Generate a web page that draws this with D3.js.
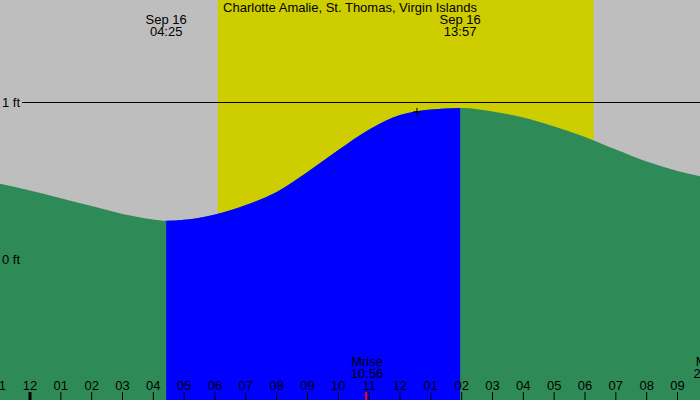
<!DOCTYPE html>
<html>
<head>
<meta charset="utf-8">
<script src="https://cdn.jsdelivr.net/npm/d3@7"></script>
<style>
  body { margin: 0; background: #fff; }
  text { font-family: "Liberation Sans", Arial, sans-serif; font-size: 13px; fill: #000; }
</style>
</head>
<body>
<div id="chart"></div>
<script>
// tide heights (ft), hours after midnight Sep 16
var tideHours = [-1, 0, 1, 2, 3, 4, 4.417, 5, 6, 7, 8, 9, 10, 11, 12, 13, 13.95, 14, 15, 16, 17, 18, 19, 20, 21, 22];
var tideFeet = [0.484, 0.44, 0.39, 0.34, 0.29, 0.255, 0.247, 0.253, 0.287, 0.347, 0.43, 0.557, 0.697, 0.828, 0.92, 0.955, 0.965, 0.965, 0.943, 0.904, 0.847, 0.78, 0.70, 0.624, 0.564, 0.52];

// events
var lowTide = {hour: 4.417, label: ["Sep 16", "04:25"]};
var highTide = {hour: 13.95, label: ["Sep 16", "13:57"]};
var sunrise = 6.09, sunset = 18.28;
var moonEvents = [
  {hour: 10.933, label: ["Mrise", "10:56"]},
  {hour: 22.05, label: ["Mset", "22:03"]}
];
var nowMark = {hour: 12.55, feet: 0.94};

// axis
var tickHours = d3.range(-1, 22);
var tickLabels = ["11", "12", "01", "02", "03", "04", "05", "06", "07", "08", "09", "10", "11",
                  "12", "01", "02", "03", "04", "05", "06", "07", "08", "09"];
var footTicks = [0, 1];

var title = "Charlotte Amalie, St. Thomas, Virgin Islands";

var width = 700, height = 400;

var svg = d3.select("#chart")
    .append("svg")
    .attr("width", width)
    .attr("height", height);

var x = d3.scaleLinear().domain([0, 24]).range([30, 770]);
var y = d3.scaleLinear().domain([0, 1]).range([259.5, 102.5]);

var data = tideHours.map(function (h, i) { return {h: h, ft: tideFeet[i]}; });

// background (night)
svg.append("rect")
    .attr("width", width)
    .attr("height", height)
    .attr("fill", "#bebebe");

// daylight band
svg.append("rect")
    .attr("x", x(sunrise))
    .attr("y", 0)
    .attr("width", x(sunset) - x(sunrise))
    .attr("height", height)
    .attr("fill", "#cdcd00");

var area = d3.area()
    .curve(d3.curveMonotoneX)
    .x(function (d) { return x(d.h); })
    .y0(height)
    .y1(function (d) { return y(d.ft); });

svg.append("path")
    .datum(data)
    .attr("fill", "#2e8b57")
    .attr("d", area);

// rising tide between low and high
svg.append("clipPath")
    .attr("id", "rise")
    .append("rect")
    .attr("x", x(lowTide.hour))
    .attr("y", 0)
    .attr("width", x(highTide.hour) - x(lowTide.hour))
    .attr("height", height);

svg.append("path")
    .datum(data)
    .attr("fill", "#0000ff")
    .attr("clip-path", "url(#rise)")
    .attr("d", area);

// foot lines and labels
footTicks.forEach(function (f) {
    svg.append("text")
        .attr("x", 2)
        .attr("y", y(f) + 4.5)
        .text(f + " ft");
    if (f > 0) {
        svg.append("line")
            .attr("x1", 22)
            .attr("x2", width)
            .attr("y1", y(f))
            .attr("y2", y(f))
            .attr("stroke", "#000")
            .attr("stroke-width", 1);
    }
});

// title
svg.append("text")
    .attr("x", 350)
    .attr("y", 12)
    .attr("text-anchor", "middle")
    .text(title);

// tide extreme labels
[lowTide, highTide].forEach(function (e) {
    e.label.forEach(function (t, i) {
        svg.append("text")
            .attr("x", x(e.hour))
            .attr("y", 24 + i * 12)
            .attr("text-anchor", "middle")
            .text(t);
    });
});

// current time marker
svg.append("path")
    .attr("d", "M" + (x(nowMark.hour) - 4) + "," + y(nowMark.feet) + "h8M" + x(nowMark.hour) + "," + (y(nowMark.feet) - 4) + "v8")
    .attr("stroke", "#000")
    .attr("stroke-width", 1);

// hour ticks
svg.selectAll(".hour")
    .data(tickHours)
    .enter()
    .append("line")
    .attr("x1", function (d) { return x(d); })
    .attr("x2", function (d) { return x(d); })
    .attr("y1", 392)
    .attr("y2", height)
    .attr("stroke", "#000")
    .attr("stroke-width", function (d) { return d === 0 ? 3 : 1; });

svg.selectAll(".hourLabel")
    .data(tickHours)
    .enter()
    .append("text")
    .attr("x", function (d) { return x(d); })
    .attr("y", 390)
    .attr("text-anchor", "middle")
    .text(function (d, i) { return tickLabels[i]; });

// moon events
moonEvents.forEach(function (e) {
    e.label.forEach(function (t, i) {
        svg.append("text")
            .attr("x", x(e.hour))
            .attr("y", 366 + i * 12)
            .attr("text-anchor", "middle")
            .text(t);
    });
    svg.append("line")
        .attr("x1", x(e.hour) - 1)
        .attr("x2", x(e.hour) - 1)
        .attr("y1", 392)
        .attr("y2", height)
        .attr("stroke", "#ff0000")
        .attr("stroke-width", 2);
});
</script>
</body>
</html>
